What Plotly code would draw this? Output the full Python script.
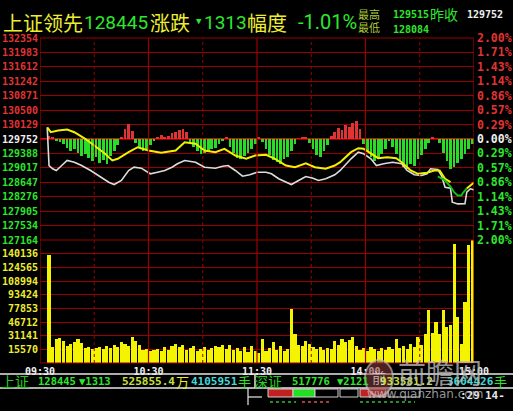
import plotly.graph_objects as go

W, H = 513, 411

# ---------------- data ----------------
prev_close = 129752
price_labels = ["132354", "131983", "131612", "131242", "130871", "130500", "130129",
                "129752", "129388", "129017", "128647", "128276", "127905", "127534", "127164"]
pct_labels = ["2.00%", "1.71%", "1.43%", "1.14%", "0.86%", "0.57%", "0.29%", "0.00%",
              "0.29%", "0.57%", "0.86%", "1.14%", "1.43%", "1.71%", "2.00%"]
vol_labels = ["15570", "31141", "46712", "77853", "93424", "108994", "124565", "140136"]
time_labels = ["09:30", "10:30", "11:30", "14:00", "15:00"]
time_ticks = [0, 60, 120, 180, 240]

white_t = [4, 5, 7, 9, 12, 15, 19, 23, 28, 34, 38, 41, 45, 49, 52, 56, 61, 65, 69, 73,
           76, 80, 86, 91, 97, 101, 104, 108, 112, 116, 120, 125, 128, 132, 136, 139, 143, 147, 151, 154,
           158, 163, 166, 172, 176, 179, 183, 186, 190, 195, 200, 203, 207, 211, 214, 216, 220, 222, 224, 227,
           228, 231, 235, 236, 238, 240]
white_p = [130050, 129071, 128986, 128943, 129071, 129200, 129156, 129071, 128943, 128771,
           128642, 128583, 128686, 128943, 129028, 129002, 128858, 128899, 128943, 129028,
           129115, 129200, 129156, 129028, 129002, 129053, 129071, 128943, 128796, 128832,
           128899, 128899, 128858, 128730, 128642, 128583, 128686, 128789, 128745, 128686,
           128730, 128832, 128943, 129243, 129413, 129372, 129243, 129071, 129115, 129156,
           129115, 128943, 128832, 128814, 128858, 128986, 128968, 128814, 128514, 128488,
           128128, 128084, 128087, 128385, 128473, 128445]

yel_t = [4, 6, 10, 15, 19, 25, 30, 36, 40, 43, 49, 54, 60, 67, 75, 80, 86, 91, 97, 102,
         108, 114, 119, 125, 130, 136, 141, 147, 152, 158, 163, 166, 172, 176, 179, 184, 187, 192, 197, 200,
         205, 209, 214, 218, 221, 224, 227]
yel_p = [130050, 129927, 129970, 129996, 129927, 129757, 129585, 129372, 129200, 129243,
         129413, 129541, 129457, 129397, 129457, 129670, 129629, 129457, 129413, 129500,
         129328, 129243, 129328, 129346, 129243, 129071, 129028, 129130, 129028, 128986,
         129071, 129156, 129413, 129516, 129500, 129346, 129259, 129284, 129259, 129156,
         128943, 128858, 128884, 128943, 128943, 128730, 128642]
grn_t = [220, 224, 227, 229, 231, 233, 234, 236]
grn_p = [128789, 128686, 128532, 128385, 128301, 128301, 128378, 128480]
yel2_t = [236, 238, 240]
yel2_p = [128480, 128557, 128634]

bar_t = list(range(5, 240, 2))
lead_diff = [77, 26, -51, -77, -128, -231, -308, -257, -360, -437,
             -385, -488, -565, -462, -617, -540, -642, -437, -308, -154,
             51, 257, 385, 206, -103, -231, -308, -257, -154, -51,
             26, 103, 26, 77, 154, 180, 231, 257, 180, -77,
             -206, -308, -385, -360, -308, -257, -231, -128, -26, 26,
             -206, -360, -488, -514, -437, -360, -257, -128, 26, -77,
             -257, -411, -540, -591, -642, -514, -462, -308, -128, 0,
             26, 51, -103, -257, -411, -462, -308, -154, 77, 180,
             283, 231, 360, 308, 411, 462, 257, -128, -308, -462,
             -565, -514, -385, -257, -51, -206, -385, -565, -720, -771,
             -642, -694, -514, -411, -257, -103, 26, 0, -103, -360,
             -565, -771, -720, -617, -514, -385, -257, -128]
volume = [123000, 18200, 27300, 28500, 25100, 19400, 21600, 23900, 27300, 22800,
          17100, 18200, 15900, 17100, 18200, 15900, 19400, 17100, 20500, 18200,
          23900, 21600, 19400, 29600, 25100, 20500, 14800, 15900, 13700, 14800,
          15900, 13700, 18200, 14800, 19400, 21600, 18200, 20500, 14800, 17100,
          19400, 13700, 15900, 18200, 14800, 17100, 19400, 18200, 20500, 15900,
          20500, 14800, 17100, 13700, 18200, 12500, 19400, 13700, 11400, 27300,
          13700, 17100, 23900, 14800, 19400, 13700, 15900, 61500, 33000, 20500,
          19400, 25100, 21600, 18200, 15900, 18200, 14800, 17100, 15900, 25100,
          20500, 27300, 23900, 26200, 29600, 19400, 14800, 17100, 13700, 18200,
          15900, 13700, 17100, 14800, 18200, 15900, 27300, 17100, 19400, 15900,
          21600, 18200, 29600, 20500, 33000, 60400, 34200, 46700, 33000, 60400,
          41000, 43300, 135500, 52400, 21600, 69500, 134400, 140100]

# ---------------- geometry helpers ----------------
def px(x):
    return x / W

def py(y):
    return 1 - y / H

X0, X1 = 40, 474
P_TOP, P_BOT = 38, 240
V_BOT = 363

RED = "#e03434"
GRN = "#2ee62e"
YEL = "#eeee30"
GRID = "#9a0000"
MONO = "DejaVu Sans Mono"
CJK = "Noto Sans CJK SC"
NUM = "Roboto"

step = 370.7
price_ticks = [prev_close + step * (7 - i) for i in range(15)]
p_range = [prev_close - 7 * step, prev_close + 7 * step]
vstep = 15570
vol_ticks = [vstep * (i + 1) for i in range(len(vol_labels))]


def col(i):
    return RED if i < 7 else ("#f0f0f0" if i == 7 else GRN)


left_txt = ["<b><span style='color:%s'>%s</span></b>" % (col(i), s) for i, s in enumerate(price_labels)]
right_txt = ["<b><span style='color:%s'>%s</span></b>" % (col(i), s) for i, s in enumerate(pct_labels)]

fig = go.Figure()

# lead bars (red up / green down from previous close)
fig.add_trace(go.Bar(x=bar_t, y=lead_diff, base=prev_close, width=1.5,
                     marker=dict(color=[RED if v > 0 else "#28dc28" for v in lead_diff], line=dict(width=0)),
                     xaxis="x", yaxis="y"))
fig.add_trace(go.Scatter(x=white_t, y=white_p, mode="lines", line=dict(color="#dcdcdc", width=1.6),
                         xaxis="x", yaxis="y"))
fig.add_trace(go.Scatter(x=yel_t, y=yel_p, mode="lines", line=dict(color="#f0f000", width=2),
                         xaxis="x", yaxis="y"))
fig.add_trace(go.Scatter(x=grn_t, y=grn_p, mode="lines", line=dict(color="#10c010", width=2),
                         xaxis="x", yaxis="y"))
fig.add_trace(go.Scatter(x=yel2_t, y=yel2_p, mode="lines", line=dict(color="#f0f000", width=2),
                         xaxis="x", yaxis="y"))
# invisible trace to activate right axis
fig.add_trace(go.Scatter(x=[0], y=[prev_close], mode="markers", marker=dict(opacity=0),
                         xaxis="x", yaxis="y3"))
# volume
fig.add_trace(go.Bar(x=bar_t, y=volume, width=1.75, marker=dict(color="#f4f400", line=dict(width=0)),
                     xaxis="x2", yaxis="y2"))

shapes = []
# vertical grid
for m in [0, 60, 120, 180, 240]:
    shapes.append(dict(type="line", xref="x", yref="paper", x0=m, x1=m, y0=py(V_BOT), y1=py(P_TOP),
                       line=dict(color=GRID, width=1.2)))
for m in [30, 90, 150, 210]:
    shapes.append(dict(type="line", xref="x", yref="paper", x0=m, x1=m, y0=py(V_BOT), y1=py(P_TOP),
                       line=dict(color=GRID, width=1, dash="dot")))
# border top/bottom lines
for yy in [P_TOP, P_BOT, V_BOT]:
    shapes.append(dict(type="line", xref="paper", yref="paper", x0=px(X0), x1=px(X1), y0=py(yy), y1=py(yy),
                       line=dict(color=GRID, width=1.2)))
# zero line
shapes.append(dict(type="line", xref="x", yref="y", x0=0, x1=240, y0=prev_close, y1=prev_close,
                   line=dict(color="#c81010", width=2), layer="below"))
# bottom status bar lines
for yy in [374, 388]:
    shapes.append(dict(type="line", xref="paper", yref="paper", x0=0, x1=1, y0=py(yy), y1=py(yy),
                       line=dict(color="#e8e8e8", width=1.5)))
shapes.append(dict(type="line", xref="paper", yref="paper", x0=px(255), x1=px(255), y0=py(388), y1=py(374),
                   line=dict(color="#e8e8e8", width=1.5)))
shapes.append(dict(type="line", xref="paper", yref="paper", x0=px(248), x1=px(248), y0=py(405), y1=py(388),
                   line=dict(color="#e8e8e8", width=1.2)))
shapes.append(dict(type="line", xref="paper", yref="paper", x0=px(248), x1=px(262), y0=py(397), y1=py(397),
                   line=dict(color="#e8e8e8", width=1.2)))
# small boxes
for (a, b, fc) in [(268, 293, "#c02020"), (293, 315, "#20e020"), (315, 338, "black"),
                   (340, 358, "black"), (360, 386, "#c02020"), (388, 420, "black")]:
    shapes.append(dict(type="rect", xref="paper", yref="paper", x0=px(a), x1=px(b), y0=py(397), y1=py(389),
                       fillcolor=fc, line=dict(color="#d0d0d0", width=1)))
# dashes
shapes.append(dict(type="line", xref="paper", yref="paper", x0=px(270), x1=px(296), y0=py(402), y1=py(402),
                   line=dict(color="#30c030", width=1.5, dash="dot")))
shapes.append(dict(type="line", xref="paper", yref="paper", x0=px(302), x1=px(330), y0=py(402), y1=py(402),
                   line=dict(color="#e05050", width=1.5, dash="dot")))
shapes.append(dict(type="line", xref="paper", yref="paper", x0=px(360), x1=px(415), y0=py(402), y1=py(402),
                   line=dict(color="#30c030", width=1.5, dash="dot")))
# watermark logo
shapes.append(dict(type="circle", xref="paper", yref="paper", x0=px(365), x1=px(393), y0=py(396), y1=py(360),
                   fillcolor="rgba(140,60,60,0.55)", line=dict(color="rgba(200,200,200,0.6)", width=2)))

ann = []


def T(x, y, s, color, size, font=MONO, bold=False):
    # x is the horizontal centre of the text, in pixels
    txt = "<b>%s</b>" % s if bold else s
    ann.append(dict(x=px(x), y=py(y), xref="paper", yref="paper", text=txt, showarrow=False,
                    xanchor="center", yanchor="middle", font=dict(family=font, size=size, color=color)))


# header
T(43, 22, "上证领先", YEL, 20, CJK)
T(116, 22, "128445", GRN, 19, NUM)
T(170, 22, "涨跌", YEL, 20, CJK)
T(199, 21, "▼", GRN, 9, MONO)
T(225, 22, "1313", GRN, 19, NUM)
T(267, 22, "幅度", YEL, 20, CJK)
T(327, 22, "-1.01%", GRN, 20, NUM)
T(369, 14, "最高", "#a8c838", 11, CJK)
T(369, 27, "最低", "#a8c838", 11, CJK)
T(411, 15, "129515", GRN, 10, MONO, bold=True)
T(444, 14, "昨收", GRN, 14, CJK)
T(411, 29, "128084", GRN, 10, MONO, bold=True)
T(485, 15, "129752", "#f0f0f0", 10, MONO, bold=True)

# bottom status bar
T(15, 381, "上证", "#20d020", 14, CJK)
T(57, 381, "128445", GRN, 10.5, MONO, bold=True)
T(95, 381, "▼1313", GRN, 10.5, MONO, bold=True)
T(148, 381, "525855.4", "#c8e040", 11, MONO, bold=True)
T(182, 381, "万", YEL, 13, CJK)
T(214, 381, "4105951", "#40d8d8", 11, MONO, bold=True)
T(244, 381, "手", GRN, 13, CJK)
T(268, 381, "深证", "#20d020", 14, CJK)
T(311, 381, "517776", GRN, 10.5, MONO, bold=True)
T(353, 381, "▼2121", GRN, 10.5, MONO, bold=True)
T(406, 381, "933581.2", "#c8e040", 11, MONO, bold=True)
T(470, 381, "3604426", "#40d8d8", 11, MONO, bold=True)
T(500, 381, "手", GRN, 13, CJK)
T(470, 395, ":29", "#e8e8e8", 11, MONO, bold=True)
T(495, 395, "14-", "#e8e8e8", 11, MONO, bold=True)

# watermark
T(440, 372, "前瞻网", "rgba(185,185,185,0.8)", 28, CJK)
T(425, 394, "www.qianzhan.com", "rgba(190,190,190,0.8)", 12, "DejaVu Sans")
T(379, 377, "前", "rgba(230,230,230,0.7)", 14, CJK)

fig.update_layout(
    width=W, height=H, margin=dict(l=0, r=0, t=0, b=0, pad=0), autosize=False,
    paper_bgcolor="black", plot_bgcolor="black", showlegend=False, bargap=0,
    xaxis=dict(domain=[px(X0), px(X1)], range=[0, 240], showgrid=False, zeroline=False,
               showticklabels=False, anchor="y", fixedrange=True, automargin=False),
    yaxis=dict(domain=[py(P_BOT), py(P_TOP)], range=p_range, tickvals=price_ticks, ticktext=left_txt,
               showgrid=True, gridcolor=GRID, gridwidth=1, zeroline=False, ticks="",
               tickfont=dict(family=MONO, size=10), anchor="x", ticklabelstandoff=1, automargin=False),
    yaxis3=dict(overlaying="y", side="right", range=p_range, tickvals=price_ticks, ticktext=right_txt,
                showgrid=False, zeroline=False, ticks="", tickfont=dict(family=MONO, size=11.5),
                anchor="x", ticklabelstandoff=2, automargin=False),
    xaxis2=dict(domain=[px(X0), px(X1)], range=[0, 240], showgrid=False, zeroline=False, anchor="y2",
                tickvals=time_ticks, ticktext=["<b>%s</b>" % s for s in time_labels], ticks="",
                tickfont=dict(family=MONO, size=10, color="#f0f0f0"), ticklabelstandoff=1, automargin=False),
    yaxis2=dict(domain=[py(V_BOT), py(P_BOT)], range=[0, vstep * 9], tickvals=vol_ticks,
                ticktext=["<b>%s</b>" % s for s in vol_labels], showgrid=True, gridcolor=GRID, gridwidth=1,
                zeroline=False, ticks="", tickfont=dict(family=MONO, size=10, color=YEL), anchor="x2",
                ticklabelstandoff=1, automargin=False),
    shapes=shapes, annotations=ann,
)

fig.write_html("out.html")
